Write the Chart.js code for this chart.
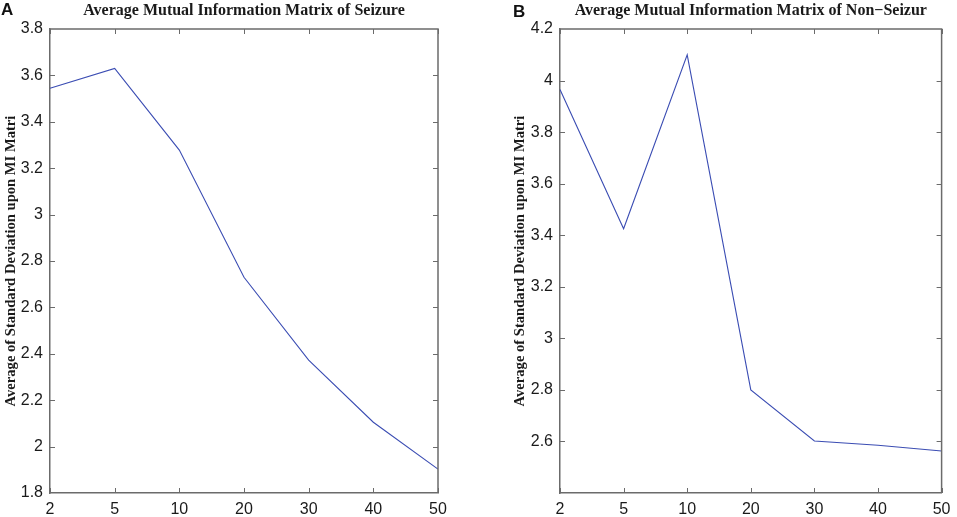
<!DOCTYPE html>
<html>
<head>
<meta charset="utf-8">
<script src="https://cdn.jsdelivr.net/npm/chart.js@4.4.1/dist/chart.umd.min.js"></script>
<style>
  html, body { margin: 0; padding: 0; background: #fff; }
  body { width: 957px; height: 517px; position: relative; overflow: hidden; }
  .panel { position: absolute; top: 0; height: 517px; }
  .letter { position: absolute; font: bold 17px "Liberation Sans", Arial, sans-serif; color: #111; }
</style>
</head>
<body>
<div class="panel" style="left:0;width:478px"><canvas id="chartA"></canvas></div>
<div class="panel" style="left:478px;width:479px"><canvas id="chartB"></canvas></div>
<div class="letter" style="left:1px;top:0px">A</div>
<div class="letter" style="left:513px;top:2px">B</div>
<script>
// Shared x categories
const categories = ['2', '5', '10', '20', '30', '40', '50'];

// Panel A: seizure
const seizureValues = [3.545, 3.630, 3.278, 2.730, 2.373, 2.105, 1.903];
// Panel B: non-seizure
const nonSeizureValues = [3.965, 3.425, 4.100, 2.800, 2.602, 2.585, 2.563];

const titleA = 'Average Mutual Information Matrix of Seizure';
const titleB = 'Average Mutual Information Matrix of Non\u2212Seizur';
const yLabel = 'Average of Standard Deviation upon MI Matri';

const lineColor  = '#3b4db3';
const frameColor = '#6b6b6b';
const textColor  = '#1a1a1a';

const sansFont  = '"Liberation Sans", Arial, sans-serif';
const serifFont = '"Liberation Serif", "Times New Roman", serif';

// Matlab-style box: top/right edges plus inward ticks on all four sides
const boxTicks = {
    id: 'boxTicks',
    afterDatasetsDraw(chart) {
        const { ctx, chartArea: a, scales } = chart;
        const len = 5;
        ctx.save();
        ctx.strokeStyle = frameColor;
        ctx.lineWidth = 1.5;
        ctx.beginPath();
        ctx.moveTo(a.left, a.top);
        ctx.lineTo(a.right, a.top);
        ctx.lineTo(a.right, a.bottom);
        ctx.stroke();
        ctx.lineWidth = 1;
        ctx.beginPath();
        scales.x.ticks.forEach((t, i) => {
            const px = Math.round(scales.x.getPixelForTick(i)) + 0.5;
            ctx.moveTo(px, a.bottom); ctx.lineTo(px, a.bottom - len);
            ctx.moveTo(px, a.top);    ctx.lineTo(px, a.top + len);
        });
        scales.y.ticks.forEach(t => {
            const py = Math.round(scales.y.getPixelForValue(t.value)) + 0.5;
            if (py >= a.bottom - 1 || py <= a.top + 1) return;
            ctx.moveTo(a.left, py);  ctx.lineTo(a.left + len, py);
            ctx.moveTo(a.right, py); ctx.lineTo(a.right - len, py);
        });
        ctx.stroke();
        ctx.restore();
    }
};

function makeChart(canvas, values, title, yMin, yMax, hideMin, opts) {
    return new Chart(canvas, {
        type: 'line',
        data: {
            labels: categories,
            datasets: [{
                data: values,
                borderColor: lineColor,
                borderWidth: 1.1,
                pointRadius: 0,
                tension: 0,
                fill: false
            }]
        },
        options: {
            responsive: true,
            maintainAspectRatio: false,
            animation: false,
            devicePixelRatio: 1,
            layout: { padding: { left: opts.padLeft, right: opts.padRight, top: 0, bottom: 0 } },
            plugins: {
                legend: { display: false },
                tooltip: { enabled: false },
                title: {
                    display: true,
                    text: title,
                    fullSize: false,
                    color: textColor,
                    font: { family: serifFont, size: 16, weight: 'bold', lineHeight: 1.2 },
                    padding: { top: 1.5, bottom: 8.3 }
                }
            },
            scales: {
                x: {
                    offset: false,
                    grid: { display: false, drawTicks: false },
                    border: { display: true, color: frameColor, width: 1.5 },
                    ticks: {
                        color: textColor, padding: 6.5, maxRotation: 0, autoSkip: false,
                        font: { family: sansFont, size: 16 }
                    },
                    afterFit(scale) { scale.height = 24; }
                },
                y: {
                    min: yMin,
                    max: yMax,
                    grid: { display: false, drawTicks: false },
                    border: { display: true, color: frameColor, width: 1.5 },
                    ticks: {
                        stepSize: 0.2,
                        color: textColor,
                        padding: 7,
                        font: { family: sansFont, size: 16 },
                        callback(v) {
                            const r = +v.toFixed(1);
                            if (hideMin && Math.abs(r - yMin) < 1e-6) return '';
                            return String(r);
                        }
                    },
                    title: {
                        display: true,
                        text: yLabel,
                        color: textColor,
                        font: { family: serifFont, size: 14.6, weight: 'bold', lineHeight: 1.2 },
                        padding: { top: 2, bottom: 0 }
                    },
                    afterFit(scale) { scale.width = opts.yWidth; }
                }
            }
        },
        plugins: [boxTicks]
    });
}

makeChart(document.getElementById('chartA'), seizureValues, titleA, 1.8, 3.8, false,
    { padLeft: 0, padRight: 40, yWidth: 50 });
makeChart(document.getElementById('chartB'), nonSeizureValues, titleB, 2.4, 4.2, true,
    { padLeft: 31, padRight: 9, yWidth: 51 });
</script>
</body>
</html>
